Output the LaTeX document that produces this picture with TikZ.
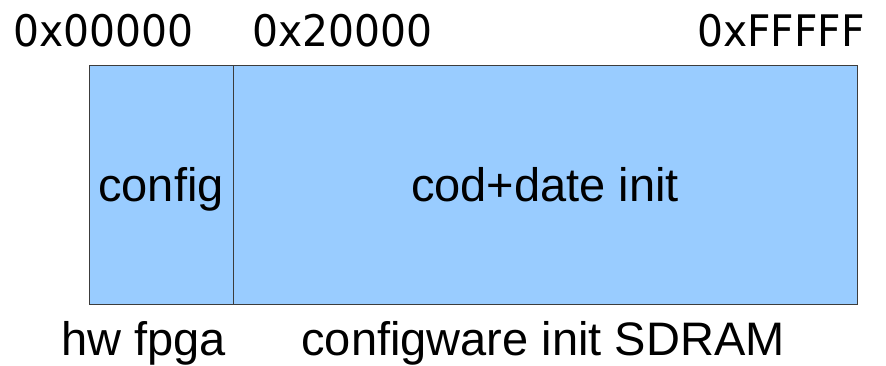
\documentclass[tikz,border=0pt]{standalone}
\usepackage{fontspec}
\setmainfont{Liberation Sans}
\newfontfamily\addrfont[FakeStretch=0.94]{DejaVu Sans}
\definecolor{memfill}{HTML}{99CCFF}
\definecolor{memline}{HTML}{3C3C3C}
\tikzset{
  membox/.style={draw=memline, fill=memfill, line width=0.75pt},
  addr/.style={inner sep=0pt, font=\addrfont\fontsize{32.6pt}{38pt}\selectfont},
  lbl/.style={inner sep=0pt, anchor=base, font=\fontsize{35.25pt}{42pt}\selectfont}
}
\begin{document}
\begin{tikzpicture}[x=0.75pt,y=-0.75pt]
  \useasboundingbox (0,0) rectangle (886,366);
  % memory map regions
  \draw[membox] (89,66) rectangle (233,305);
  \draw[membox] (233,66) rectangle (857,305);
  % region labels
  \node[lbl] (cfg) at (161,202) {config};
  \node[lbl] (code) at (545,202) {cod+date init};
  % addresses
  \node[addr, anchor=base west] (a0) at (13,47) {0x00000};
  \node[addr, anchor=base west] (a1) at (252,47) {0x20000};
  \node[addr, anchor=base east] (a2) at (865,47) {0xFFFFF};
  % owners
  \node[lbl] (hw) at (143.5,356) {hw fpga};
  \node[lbl] (sw) at (543,356) {configware init SDRAM};
\end{tikzpicture}
\end{document}
